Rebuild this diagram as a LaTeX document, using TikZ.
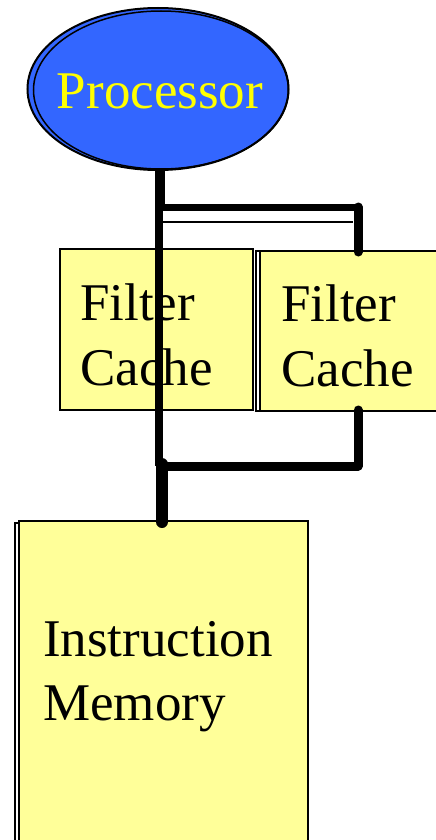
\documentclass[tikz,border=0pt]{standalone}
\usepackage{fontspec}
\setmainfont{Liberation Serif}
\usetikzlibrary{shapes.geometric}
\definecolor{procblue}{HTML}{3366FF}
\definecolor{boxyellow}{HTML}{FFFF99}
\definecolor{txtyellow}{HTML}{FFFF00}
\tikzset{
  bigtext/.style={inner sep=0pt, anchor=base west, font=\fontsize{53}{64}\selectfont},
  boxfill/.style={draw=black, line width=2pt, fill=boxyellow, inner sep=0pt, anchor=north west},
  boxback/.style={draw=black, line width=2pt, fill=white, inner sep=0pt, anchor=north west},
  bus/.style={draw=black, line cap=round},
}
\begin{document}
\begin{tikzpicture}[x=1pt,y=-1pt]
\useasboundingbox (0,0) rectangle (436,840);
% processor
\node[ellipse, draw=black, line width=2pt, fill=procblue, minimum width=261pt, minimum height=162pt, inner sep=0pt] (proc) at (158,89) {};
\node[ellipse, draw=black, line width=1.5pt, minimum width=255pt, minimum height=158pt, inner sep=0pt] (procb) at (161,90) {};
\node[inner sep=0pt, text=txtyellow, font=\fontsize{53}{64}\selectfont] (proclbl) at (160,91) {Processor};
% filter cache 1
\node[boxfill, minimum width=193pt, minimum height=161pt] (fc1) at (59,248) {};
\node[bigtext] (fc1a) at (80,320) {Filter};
\node[bigtext] (fc1b) at (80,385) {Cache};
% filter cache 2
\node[boxback, minimum width=200pt, minimum height=160pt] (fc2b) at (255,250) {};
\node[boxfill, minimum width=200pt, minimum height=160pt] (fc2) at (259,250) {};
\node[bigtext] (fc2a) at (281,321) {Filter};
\node[bigtext] (fc2c) at (281,386) {Cache};
% instruction memory
\node[boxback, minimum width=290pt, minimum height=340pt] (memb) at (14,522) {};
\node[boxfill, minimum width=289pt, minimum height=340pt] (mem) at (18,520) {};
\node[bigtext] (mema) at (43,656) {Instruction};
\node[bigtext] (memc) at (43,720) {Memory};
% bus coordinates
\coordinate (jt) at (159,207);
\coordinate (jtr) at (358,207);
\coordinate (jb) at (159,466);
\coordinate (jbr) at (358,466);
\coordinate (thinl) at (163,222);
\coordinate (thinr) at (353,222);
\coordinate (fc2top) at (358,252);
\coordinate (fc2bot) at (358,410);
\coordinate (memtop) at (162,522);
% lines
\draw[line width=10pt] (proc.south -| jt) ++(1,-2) -- ([xshift=1pt]jt);
\draw[line width=8pt] (jt) -- (jb);
\draw[bus, line width=7pt] ([xshift=3pt]jt) -- (jtr);
\draw[bus, line width=9pt] (jtr) -- (fc2top);
\draw[line width=2pt] (thinl) -- (thinr);
\draw[bus, line width=9pt] (fc2bot) -- (jbr);
\draw[bus, line width=9pt] ([xshift=3pt]jb) -- (jbr);
\draw[line cap=round, line width=12pt] ([yshift=2pt]jb -| memtop) -- (memtop);
\end{tikzpicture}
\end{document}
